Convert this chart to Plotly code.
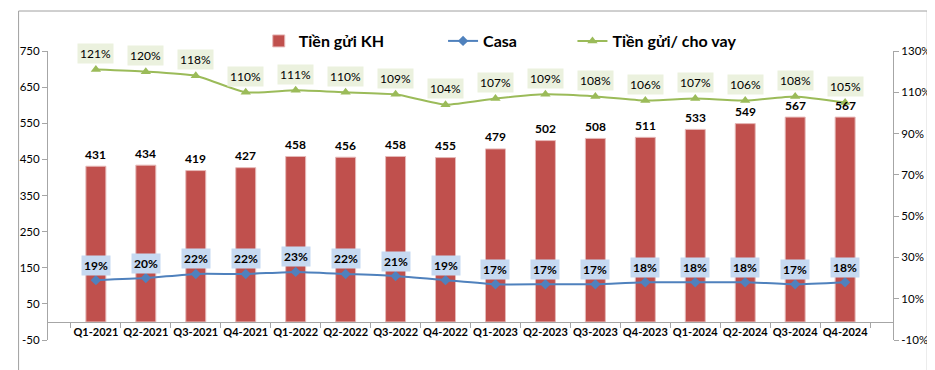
import plotly.graph_objects as go

categories = ["Q1-2021", "Q2-2021", "Q3-2021", "Q4-2021", "Q1-2022", "Q2-2022", "Q3-2022", "Q4-2022",
              "Q1-2023", "Q2-2023", "Q3-2023", "Q4-2023", "Q1-2024", "Q2-2024", "Q3-2024", "Q4-2024"]
deposits = [431, 434, 419, 427, 458, 456, 458, 455, 479, 502, 508, 511, 533, 549, 567, 567]
casa_pct = [19, 20, 22, 22, 23, 22, 21, 19, 17, 17, 17, 18, 18, 18, 17, 18]
ldr_pct = [121, 120, 118, 110, 111, 110, 109, 104, 107, 109, 108, 106, 107, 106, 108, 105]

left_ticks = [-50, 50, 150, 250, 350, 450, 550, 650, 750]
right_ticks = [-10, 10, 30, 50, 70, 90, 110, 130]

FONT = "Lato, Open Sans, sans-serif"
RED = "#C0504D"
BLUE = "#4F81BD"
GREEN = "#9BBB59"

casa = [v / 100 for v in casa_pct]
ldr = [v / 100 for v in ldr_pct]

fig = go.Figure()
fig.add_trace(go.Bar(
    x=categories, y=deposits, name="Tiền gửi KH", yaxis="y",
    marker=dict(color=RED, line=dict(color="#E6B9B8", width=1)),
    width=0.4, legend="legend", showlegend=True,
))
fig.add_trace(go.Scatter(
    x=categories, y=casa, name="Casa", yaxis="y2", mode="lines+markers",
    line=dict(color=BLUE, width=2, shape="spline", smoothing=0.5),
    marker=dict(symbol="diamond", size=8, color=BLUE), legend="legend2", showlegend=True,
))
fig.add_trace(go.Scatter(
    x=categories, y=ldr, name="Tiền gửi/ cho vay", yaxis="y2", mode="lines+markers",
    line=dict(color=GREEN, width=2, shape="spline", smoothing=0.5),
    marker=dict(symbol="triangle-up", size=9, color=GREEN), legend="legend3", showlegend=True,
))

annotations = []
for c, v in zip(categories, deposits):
    annotations.append(dict(x=c, y=v, xref="x", yref="y", text=f"<b>{v}</b>", showarrow=False,
                            yshift=12, font=dict(family=FONT, size=12, color="#000")))
for c, v, p in zip(categories, casa, casa_pct):
    annotations.append(dict(x=c, y=v, xref="x", yref="y2", text=f"<b>{p}%</b>", showarrow=False,
                            yshift=15, bgcolor="#C6D9F1", borderpad=2,
                            font=dict(family=FONT, size=12, color="#000")))
for c, v, p in zip(categories, ldr, ldr_pct):
    annotations.append(dict(x=c, y=v, xref="x", yref="y2", text=f"{p}%", showarrow=False,
                            yshift=16, bgcolor="#EBF1DE", borderpad=2,
                            font=dict(family=FONT, size=12, color="#000")))

L, R, T, B = 33, 40, 43, 38
W, H = 935, 370
pw, ph = W - L - R, H - T - B

def px_x(p):
    return (p - L) / pw

def px_y(p):
    return (H - B - p) / ph

legend_style = dict(yanchor="middle", xanchor="left", orientation="h",
                    font=dict(family=FONT, size=16, weight="bold", color="#000"),
                    bgcolor="rgba(0,0,0,0)", itemwidth=30, visible=True)

fig.update_layout(
    width=W, height=H,
    margin=dict(l=L, r=R, t=T, b=B),
    paper_bgcolor="white", plot_bgcolor="white",
    font=dict(family=FONT, size=12, color="#000"),
    showlegend=True,
    xaxis=dict(
        type="category", anchor="free", position=50 / 800,
        showline=True, linecolor="#A6A6A6", linewidth=1,
        ticks="outside", ticklen=5, tickcolor="#A6A6A6", tickson="boundaries",
        tickangle=0,
        tickfont=dict(family=FONT, size=11, color="#000", weight="bold"),
        showgrid=False, zeroline=False,
    ),
    yaxis=dict(
        range=[-50, 750], tickvals=left_ticks, ticktext=[str(t) for t in left_ticks],
        showline=True, linecolor="#A6A6A6", linewidth=1,
        ticks="outside", ticklen=5, tickcolor="#A6A6A6",
        showgrid=False, zeroline=False, tickfont=dict(size=11.5),
    ),
    yaxis2=dict(
        range=[-0.1, 1.3], tickvals=[t / 100 for t in right_ticks], ticktext=[f"{t}%" for t in right_ticks],
        overlaying="y", side="right",
        showline=True, linecolor="#A6A6A6", linewidth=1,
        ticks="outside", ticklen=5, tickcolor="#A6A6A6",
        showgrid=False, zeroline=False, tickfont=dict(size=11.5),
    ),
    legend=dict(x=px_x(248), y=px_y(33), **legend_style),
    legend2=dict(x=px_x(436), y=px_y(33), **legend_style),
    legend3=dict(x=px_x(568), y=px_y(33), **legend_style),
    annotations=annotations,
    shapes=[dict(type="rect", xref="paper", yref="paper",
                 x0=px_x(3), x1=px_x(930), y0=px_y(364), y1=px_y(3),
                 line=dict(color="#A0A0A0", width=1), fillcolor="rgba(0,0,0,0)", layer="below")],
)

fig.write_html("out.html")
